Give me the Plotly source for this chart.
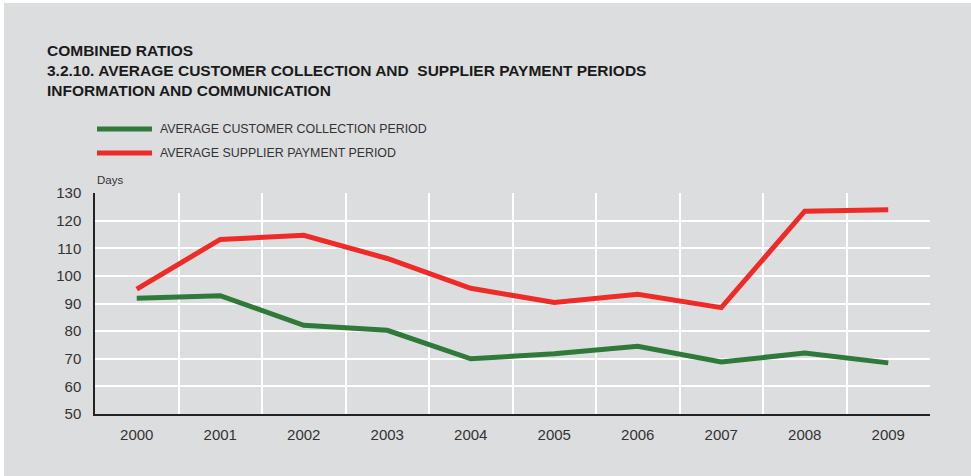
import plotly.graph_objects as go

# Datos
years = [2000, 2001, 2002, 2003, 2004, 2005, 2006, 2007, 2008, 2009]
customer_collection = [91.9, 92.8, 82.1, 80.3, 70.0, 71.8, 74.5, 68.8, 72.1, 68.5]
supplier_payment = [95.2, 113.2, 114.7, 106.3, 95.5, 90.4, 93.3, 88.5, 123.4, 123.9]

series_names = ['AVERAGE CUSTOMER COLLECTION PERIOD', 'AVERAGE SUPPLIER PAYMENT PERIOD']
series_colors = ['#2f7a3b', '#ee2b27']

BG = '#dcdddf'
FONT = 'Liberation Sans, Arial, sans-serif'

# Geometría (px dentro de la figura)
W, H = 967, 473
L, R, T, B = 91, 41, 190, 62
PW, PH = W - L - R, H - T - B


def px(x):
    return (x - L) / PW


def py(y):
    return (H - B - y) / PH


fig = go.Figure()

for name, values, color in zip(series_names, [customer_collection, supplier_payment], series_colors):
    fig.add_trace(go.Scatter(
        x=years, y=values, mode='lines', name=name,
        line=dict(color=color, width=5),
        showlegend=False
    ))

# Leyenda dibujada a mano (líneas más largas que las de plotly)
legend_y = [126, 150]
for name, color, ly in zip(series_names, series_colors, legend_y):
    fig.add_shape(type='line', xref='paper', yref='paper',
                  x0=px(93), x1=px(148), y0=py(ly), y1=py(ly),
                  line=dict(color=color, width=5))
    fig.add_annotation(xref='paper', yref='paper', x=px(154), y=py(ly),
                       text=name, showarrow=False, xanchor='left', yanchor='middle',
                       font=dict(size=12.4, color='#333333', family=FONT))

# Título
fig.add_annotation(xref='paper', yref='paper', x=px(41), y=py(37),
                   text='<b>COMBINED RATIOS<br>3.2.10. AVERAGE CUSTOMER COLLECTION AND  SUPPLIER PAYMENT PERIODS'
                        '<br>INFORMATION AND COMMUNICATION</b>',
                   showarrow=False, xanchor='left', yanchor='top', align='left',
                   font=dict(size=15.5, color='#1a1a1a', family=FONT))

fig.add_annotation(xref='paper', yref='paper', x=px(91), y=py(177),
                   text='Days', showarrow=False, xanchor='left', yanchor='middle',
                   font=dict(size=11.5, color='#333333', family=FONT))

fig.update_layout(
    width=W, height=H,
    paper_bgcolor=BG, plot_bgcolor=BG,
    margin=dict(l=L, r=R, t=T, b=B),
    font=dict(family=FONT, color='#333333'),
    xaxis=dict(
        range=[1999.5, 2009.5], tickmode='array', tickvals=years,
        showgrid=False, zeroline=False,
        showline=True, linecolor='#222222', linewidth=1.5,
        ticks='', ticklabelstandoff=6, tickfont=dict(size=15, color='#333333'),
        minor=dict(tickmode='linear', tick0=1999.5, dtick=1, showgrid=True,
                   gridcolor='#ffffff', gridwidth=1.5, ticks=''),
    ),
    yaxis=dict(
        range=[50, 130], dtick=10, tick0=50,
        showgrid=True, gridcolor='#ffffff', gridwidth=1.5, zeroline=False,
        showline=True, linecolor='#222222', linewidth=1.5,
        ticks='', ticklabelstandoff=9, tickfont=dict(size=15, color='#333333'),
    ),
)

fig.write_html('out.html', post_script="document.body.style.margin = '3px 0 0 4px';")
